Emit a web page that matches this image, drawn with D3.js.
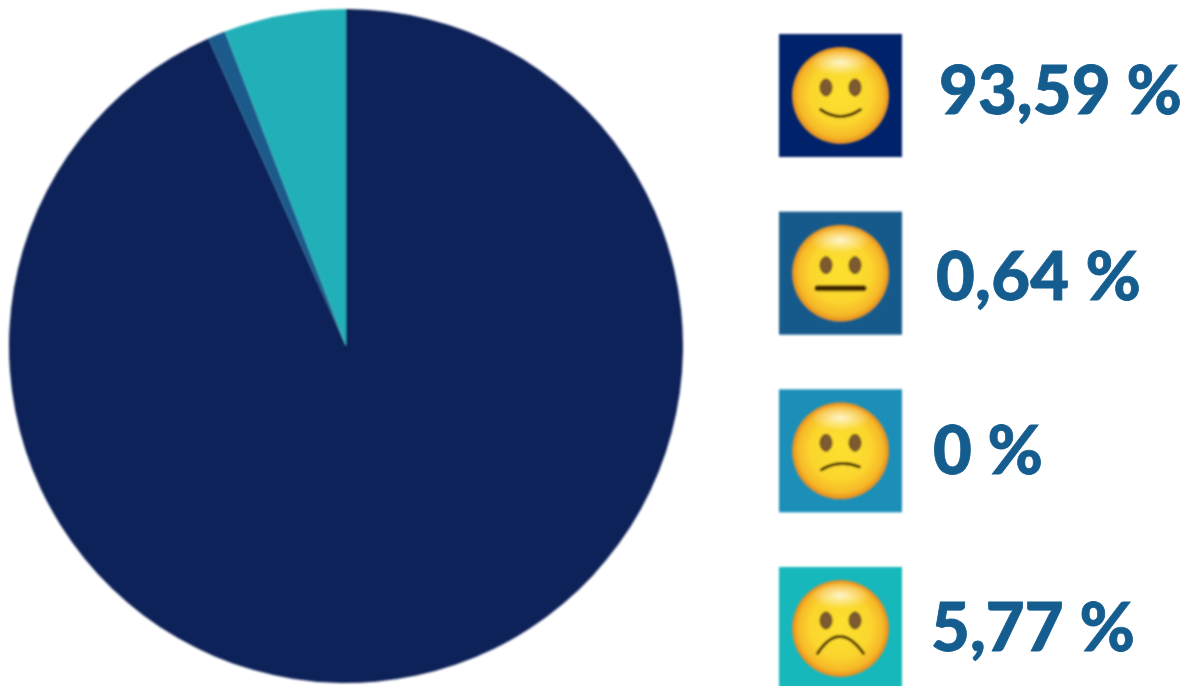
<!DOCTYPE html>
<html><head><meta charset="utf-8">
<script src="https://cdn.jsdelivr.net/npm/d3@7"></script>
<style>html,body{margin:0;padding:0;background:#fff;overflow:hidden}svg{display:block}</style>
</head><body><svg id="c" width="1187" height="686"></svg>
<script>
const categories = ["Satisfied", "Neutral", "Slightly unsatisfied", "Unsatisfied"];
const sliceShares = [93.3, 0.85, 0, 5.85];
const labels = ["93,59 %", "0,64 %", "0 %", "5,77 %"];
const pieColors = ["#112259", "#1a5a8c", "#1f8fb8", "#23b0b8"];
const swatchColors = ["#03216a", "#135a8c", "#1f8fb8", "#17b8bc"];
const moods = ["smile", "flat", "frown", "sad"];

const svg = d3.select("#c");
const defs = svg.append("defs");
const blur = defs.append("filter").attr("id", "soft").attr("x", "-5%").attr("y", "-5%").attr("width", "110%").attr("height", "110%");
blur.append("feGaussianBlur").attr("stdDeviation", 0.8);
const g1 = defs.append("radialGradient").attr("id", "face").attr("cx", "50%").attr("cy", "50%").attr("r", "50%").attr("fx", "50%").attr("fy", "45%");
[[0, "#fde12f"], [0.62, "#fbd62e"], [0.88, "#f6b828"], [0.97, "#e9951f"], [1, "#d08d40"]].forEach(([o, c]) => g1.append("stop").attr("offset", o).attr("stop-color", c));
const g2 = defs.append("radialGradient").attr("id", "shine");
g2.append("stop").attr("offset", 0).attr("stop-color", "#fff").attr("stop-opacity", 0.75);
g2.append("stop").attr("offset", 0.45).attr("stop-color", "#fff").attr("stop-opacity", 0.4);
g2.append("stop").attr("offset", 1).attr("stop-color", "#fff").attr("stop-opacity", 0);

// Pie
const cx = 346, cy = 346, R = 337;
const pie = d3.pie().sort(null).value(d => d);
const arc = d3.arc().innerRadius(0).outerRadius(R);
svg.append("g").attr("transform", `translate(${cx},${cy})`).attr("filter", "url(#soft)")
  .selectAll("path").data(pie(sliceShares)).join("path")
  .attr("d", arc).attr("fill", (d, i) => pieColors[i]);

// Legend
const rowY = d3.scalePoint().domain(d3.range(categories.length)).range([34, 567]);
const swatch = 123;
const textX = [939, 936, 933, 931];
const textDy = [80, 88, 85, 84];
const row = svg.append("g").selectAll("g").data(categories).join("g")
  .attr("transform", (d, i) => `translate(779,${rowY(i)})`);
row.append("rect").attr("width", swatch).attr("height", swatch)
  .attr("fill", (d, i) => swatchColors[i]).attr("filter", "url(#soft)");

const mouth = {
  smile: "M-20,14 Q0,28 20,14",
  flat: "M-23,15 L23,15",
  frown: "M-19,19 Q-2,8 19,16",
  sad: "M-23,25 Q-1,-9 23,25"
};
const face = row.append("g").attr("transform", `translate(${swatch / 2},${swatch / 2})`).attr("filter", "url(#soft)");
face.append("circle").attr("r", 48.5).attr("fill", "url(#face)");
face.append("ellipse").attr("cy", -33).attr("rx", 30).attr("ry", 13).attr("fill", "url(#shine)");
[-14.5, 14.5].forEach(dx => {
  face.append("ellipse").attr("cx", dx).attr("cy", -8).attr("rx", 6).attr("ry", 8.5)
    .attr("fill", "#7d5a30").attr("stroke", "#5a3c14").attr("stroke-width", 1);
});
face.append("path").attr("d", (d, i) => mouth[moods[i]])
  .attr("fill", "none").attr("stroke", "#3f2503")
  .attr("stroke-linecap", "round")
  .attr("stroke-width", (d, i) => moods[i] === "flat" ? 6 : 3);

row.append("text").text((d, i) => labels[i])
  .attr("x", (d, i) => textX[i] - 779)
  .attr("y", (d, i) => textDy[i])
  .attr("font-family", "Lato, 'Open Sans', sans-serif").attr("font-weight", 900)
  .attr("font-size", 67).attr("fill", "#155d8f")
  .attr("stroke", "#155d8f").attr("stroke-width", 0.8)
  .attr("textLength", (d, i) => [243, 205, 110, 204][i])
  .attr("lengthAdjust", "spacing");
</script></body></html>
